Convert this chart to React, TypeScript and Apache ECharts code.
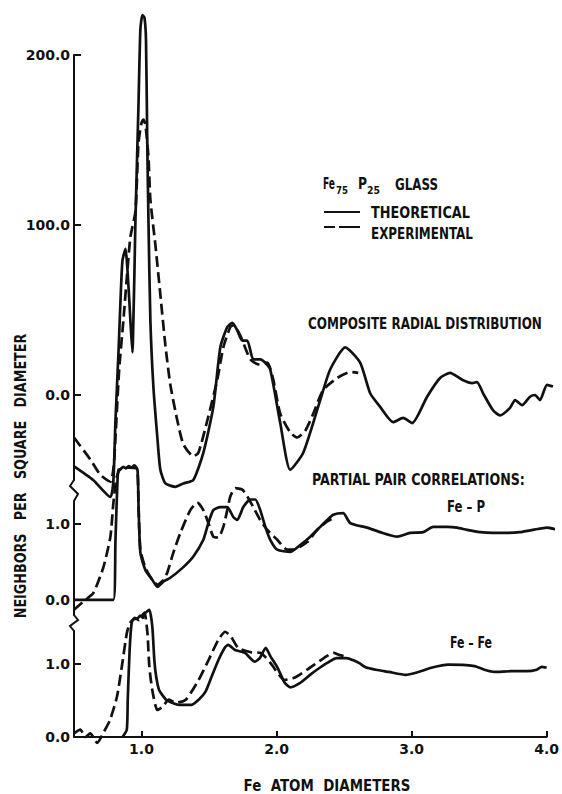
import React, { useEffect, useRef } from "react";
import * as echarts from "echarts";

// ---- axis ticks ----
const X_TICKS = [1, 2, 3, 4];
const COMPOSITE_TICKS = [0, 100, 200];
const PARTIAL_TICKS = [0, 1];

// ---- Composite radial distribution (neighbors per square diameter) ----
const compositeTheoretical: number[][] = [
  [0.5, -42], [0.64, -50], [0.766, -60], [0.788, -50], [0.803, -15], [0.825, 25], [0.839, 54],
  [0.854, 79], [0.876, 86], [0.898, 64], [0.912, 44], [0.927, 25], [0.934, 44], [0.942, 74],
  [0.949, 103], [0.971, 170], [0.985, 215], [1.0, 223.5], [1.015, 222], [1.026, 209], [1.036, 144],
  [1.044, 103], [1.058, 44], [1.08, 5], [1.109, -25], [1.131, -44], [1.168, -52], [1.241, -54],
  [1.299, -52], [1.372, -50], [1.445, -34], [1.518, -7], [1.569, 28], [1.62, 40], [1.657, 42.4],
  [1.693, 38], [1.73, 32], [1.766, 32], [1.81, 21], [1.861, 21], [1.898, 19], [1.934, 15],
  [2.007, -16.5], [2.08, -44], [2.175, -34], [2.299, -3], [2.372, 15], [2.482, 28], [2.591, 19],
  [2.664, 1], [2.737, -7], [2.832, -16], [2.905, -13.5], [2.971, -16.5], [3.08, -1], [3.175, 10],
  [3.248, 13], [3.336, 9], [3.409, 7], [3.445, 7.6], [3.489, 1], [3.562, -9], [3.613, -12],
  [3.686, -7.6], [3.723, -3], [3.774, -6], [3.832, -1], [3.869, 0], [3.905, -3], [3.956, 6], [4.0, 5],
];
const compositeExperimental: number[][] = [
  [0.5, -25], [0.62, -38], [0.693, -47], [0.766, -51], [0.79, -42], [0.803, -25], [0.83, 15],
  [0.861, 44], [0.891, 74], [0.912, 93], [0.949, 108], [0.971, 148], [0.993, 160], [1.007, 162],
  [1.022, 159], [1.044, 140], [1.058, 115], [1.095, 88], [1.131, 59], [1.168, 29], [1.204, 6],
  [1.255, -15], [1.299, -29], [1.372, -36], [1.409, -34], [1.474, -15], [1.547, 9], [1.591, 28],
  [1.642, 40], [1.664, 41], [1.715, 35], [1.788, 21], [1.847, 18], [1.912, 19], [1.956, 9],
  [2.007, -11], [2.08, -22], [2.131, -25], [2.19, -21], [2.248, -11], [2.321, 3], [2.423, 10],
  [2.518, 13.5], [2.577, 13],
];

// ---- Fe-P partial pair correlation ----
const feP_Theoretical: number[][] = [
  [0.5, 0], [0.788, 0], [0.803, 0.79], [0.818, 1.58], [0.825, 1.71], [0.84, 1.72], [0.86, 1.75],
  [0.88, 1.73], [0.9, 1.76], [0.92, 1.74], [0.94, 1.77], [0.964, 1.71], [0.971, 1.28], [0.985, 0.62],
  [1.022, 0.39], [1.073, 0.26], [1.109, 0.17], [1.153, 0.24], [1.204, 0.29], [1.299, 0.43],
  [1.372, 0.57], [1.445, 0.79], [1.482, 1.01], [1.518, 1.18], [1.569, 1.22], [1.62, 1.22],
  [1.664, 1.09], [1.693, 1.05], [1.737, 1.22], [1.788, 1.32], [1.825, 1.32], [1.861, 1.18],
  [1.898, 0.96], [1.934, 0.79], [1.985, 0.66], [2.08, 0.63], [2.153, 0.72], [2.226, 0.83],
  [2.299, 0.96], [2.35, 1.05], [2.394, 1.12], [2.467, 1.14], [2.518, 1.01], [2.642, 0.95],
  [2.737, 0.89], [2.861, 0.83], [2.956, 0.88], [3.051, 0.89], [3.124, 0.96], [3.226, 0.96],
  [3.299, 0.95], [3.372, 0.92], [3.467, 0.89], [3.562, 0.88], [3.664, 0.88], [3.759, 0.89],
  [3.854, 0.92], [3.956, 0.95], [4.036, 0.92],
];
const feP_Experimental: number[][] = [
  [0.5, -0.13], [0.584, 0], [0.642, 0.09], [0.715, 0.43], [0.766, 0.83], [0.788, 1.28], [0.81, 1.6],
  [0.84, 1.72], [0.9, 1.74], [0.96, 1.72], [0.971, 1.25], [0.985, 0.66], [1.022, 0.42], [1.073, 0.26],
  [1.109, 0.2], [1.153, 0.26], [1.182, 0.36], [1.226, 0.62], [1.277, 0.88], [1.35, 1.18],
  [1.401, 1.28], [1.445, 1.18], [1.482, 1.01], [1.518, 0.83], [1.555, 0.82], [1.591, 0.96],
  [1.62, 1.18], [1.642, 1.36], [1.679, 1.47], [1.73, 1.45], [1.766, 1.36], [1.81, 1.22],
  [1.861, 1.05], [1.912, 0.92], [1.985, 0.79], [2.058, 0.66], [2.102, 0.66], [2.204, 0.76],
  [2.277, 0.92], [2.35, 1.03], [2.409, 1.09],
];

// ---- Fe-Fe partial pair correlation ----
const feFe_Theoretical: number[][] = [
  [0.86, 0], [0.891, 0.1], [0.898, 0.51], [0.912, 1.19], [0.927, 1.56], [0.949, 1.63], [0.97, 1.62],
  [0.99, 1.66], [1.01, 1.63], [1.03, 1.7], [1.058, 1.74], [1.08, 1.51], [1.095, 1.05], [1.109, 0.82],
  [1.131, 0.64], [1.182, 0.51], [1.226, 0.47], [1.277, 0.44], [1.372, 0.44], [1.423, 0.51],
  [1.474, 0.62], [1.518, 0.82], [1.569, 1.05], [1.62, 1.23], [1.642, 1.26], [1.693, 1.19],
  [1.766, 1.15], [1.839, 1.03], [1.876, 1.08], [1.92, 1.22], [1.956, 1.1], [2.007, 0.95],
  [2.058, 0.75], [2.102, 0.68], [2.175, 0.74], [2.248, 0.85], [2.299, 0.92], [2.372, 1.01],
  [2.445, 1.08], [2.518, 1.08], [2.569, 1.05], [2.613, 1.01], [2.664, 0.95], [2.737, 0.92],
  [2.832, 0.89], [2.956, 0.85], [3.051, 0.89], [3.153, 0.95], [3.27, 0.99], [3.467, 0.97],
  [3.54, 0.92], [3.613, 0.89], [3.737, 0.9], [3.854, 0.9], [3.927, 0.92], [3.964, 0.96], [4.0, 0.95],
];
const feFe_Experimental: number[][] = [
  [0.5, 0.05], [0.547, 0.1], [0.584, 0], [0.62, 0.05], [0.672, -0.08], [0.715, 0.05], [0.766, 0.23],
  [0.818, 0.55], [0.854, 0.96], [0.891, 1.42], [0.912, 1.55], [0.934, 1.6], [0.96, 1.62], [0.98, 1.6],
  [1.0, 1.65], [1.022, 1.7], [1.044, 1.42], [1.058, 0.96], [1.08, 0.64], [1.117, 0.37], [1.153, 0.41],
  [1.204, 0.51], [1.255, 0.47], [1.328, 0.51], [1.423, 0.78], [1.496, 1.05], [1.569, 1.33],
  [1.62, 1.44], [1.664, 1.37], [1.715, 1.22], [1.81, 1.16], [1.883, 1.15], [1.956, 1.01],
  [2.007, 0.88], [2.058, 0.78], [2.131, 0.81], [2.226, 0.92], [2.35, 1.08], [2.423, 1.15],
  [2.467, 1.12], [2.518, 1.1],
];

const FONT = "'DejaVu Sans', sans-serif";
const INK = "#111111";

let measureCtx: CanvasRenderingContext2D | null = null;
function measure(text: string, size: number): number {
  if (!measureCtx) measureCtx = document.createElement("canvas").getContext("2d");
  if (!measureCtx) return text.length * size * 0.65;
  measureCtx.font = `bold ${size}px ${FONT}`;
  return measureCtx.measureText(text).width || text.length * size * 0.65;
}

function line(data: number[][], idx: number, dashed: boolean) {
  return {
    type: "line",
    xAxisIndex: idx,
    yAxisIndex: idx,
    data,
    symbol: "none",
    showSymbol: false,
    clip: false,
    smooth: 0.2,
    silent: true,
    lineStyle: { color: INK, width: 2.7, type: dashed ? [11, 5] : "solid", join: "round" },
  };
}

function yAxis(idx: number, min: number, max: number, ticks: number[]) {
  return {
    type: "value",
    gridIndex: idx,
    min,
    max,
    axisLine: { show: true, lineStyle: { color: INK, width: 2 } },
    axisTick: { show: true, inside: true, length: 7, customValues: ticks, lineStyle: { color: INK, width: 2 } },
    axisLabel: {
      customValues: ticks,
      formatter: (v: number) => v.toFixed(1),
      color: INK,
      fontFamily: FONT,
      fontWeight: "bold",
      fontSize: 14,
      margin: 4,
    },
    splitLine: { show: false },
  };
}

function xAxis(idx: number, visible: boolean) {
  return {
    type: "value",
    gridIndex: idx,
    min: 0.5,
    max: 4.0,
    show: visible,
    axisLine: { show: true, lineStyle: { color: INK, width: 2 } },
    axisTick: { show: true, inside: true, length: 6, customValues: X_TICKS, lineStyle: { color: INK, width: 2 } },
    axisLabel: {
      customValues: X_TICKS,
      formatter: (v: number) => v.toFixed(1),
      color: INK,
      fontFamily: FONT,
      fontWeight: "bold",
      fontSize: 14,
      margin: 5,
    },
    splitLine: { show: false },
  };
}

// text squeezed horizontally to a given width (the original uses condensed lettering)
function fit(text: string, x: number, y: number, width: number, size = 15, align = "left", rotation = 0) {
  const s = width / measure(text, size);
  return {
    type: "text",
    x,
    y,
    rotation,
    scaleX: s,
    scaleY: 1,
    silent: true,
    style: {
      text,
      fill: INK,
      font: `bold ${size}px ${FONT}`,
      textAlign: align,
      textVerticalAlign: "middle",
    },
  };
}

export default function App() {
  const ref = useRef<HTMLDivElement>(null);
  useEffect(() => {
    document.body.style.margin = "0";
    const chart = echarts.init(ref.current!, null, { renderer: "svg" });
    chart.setOption({
      animation: false,
      backgroundColor: "#ffffff",
      grid: [
        { left: 74, right: 9, top: 55, height: 425 },
        { left: 74, right: 9, top: 501, height: 114 },
        { left: 74, right: 9, top: 631, height: 106 },
      ],
      xAxis: [xAxis(0, false), xAxis(1, false), xAxis(2, true)],
      yAxis: [
        yAxis(0, -50, 200, COMPOSITE_TICKS),
        yAxis(1, -0.2, 1.3, PARTIAL_TICKS),
        yAxis(2, 0, 1.45, PARTIAL_TICKS),
      ],
      series: [
        line(compositeExperimental, 0, true),
        line(compositeTheoretical, 0, false),
        line(feP_Experimental, 1, true),
        line(feP_Theoretical, 1, false),
        line(feFe_Experimental, 2, true),
        line(feFe_Theoretical, 2, false),
      ],
      graphic: [
        // axis breaks
        { type: "polyline", silent: true, shape: { points: [[74, 480], [70, 486], [78, 494], [74, 501]] }, style: { stroke: INK, lineWidth: 2, fill: "none" } },
        { type: "polyline", silent: true, shape: { points: [[74, 615], [78, 620], [70, 626], [74, 631]] }, style: { stroke: INK, lineWidth: 2, fill: "none" } },
        // legend
        fit("Fe", 323, 184, 12),
        fit("75", 336, 190, 12, 11),
        fit("P", 358, 184, 9),
        fit("25", 367, 190, 13, 11),
        fit("GLASS", 395, 184, 43),
        { type: "line", silent: true, shape: { x1: 324, y1: 212, x2: 360, y2: 212 }, style: { stroke: INK, lineWidth: 2 } },
        { type: "line", silent: true, shape: { x1: 324, y1: 227, x2: 335, y2: 227 }, style: { stroke: INK, lineWidth: 2 } },
        { type: "line", silent: true, shape: { x1: 339, y1: 227, x2: 360, y2: 227 }, style: { stroke: INK, lineWidth: 2 } },
        fit("THEORETICAL", 371, 213, 99),
        fit("EXPERIMENTAL", 371, 233, 102),
        // annotations
        fit("COMPOSITE RADIAL DISTRIBUTION", 308, 323, 234),
        fit("PARTIAL PAIR CORRELATIONS:", 312, 480, 213),
        fit("Fe – P", 447, 507, 38),
        fit("Fe – Fe", 450, 643, 42),
        // axis titles
        fit("Fe  ATOM  DIAMETERS", 327, 786, 167, 15, "center"),
        fit("NEIGHBORS   PER   SQUARE   DIAMETER", 21, 476, 285, 15, "center", Math.PI / 2),
      ],
    });
    return () => chart.dispose();
  }, []);
  return <div ref={ref} style={{ width: 562, height: 794 }} />;
}
